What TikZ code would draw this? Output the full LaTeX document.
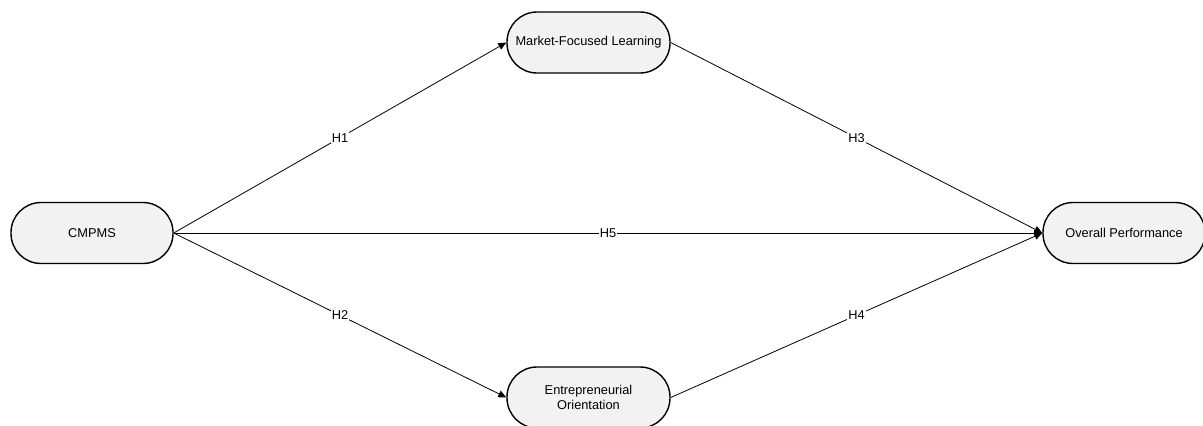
\documentclass[tikz,border=0pt]{standalone}
\usepackage{fontspec}
\setmainfont{Liberation Sans}
\usetikzlibrary{arrows.meta}
\definecolor{boxfill}{HTML}{F2F2F2}
\tikzset{
  construct/.style={draw=black, line width=1.4pt, fill=boxfill, rounded corners=30pt,
    minimum width=162pt, minimum height=61pt, inner sep=0pt, align=center,
    font=\fontsize{12.8}{14.5}\selectfont},
  path/.style={draw=black, line width=0.8pt, -{Triangle[length=8pt,width=7pt]}},
  hyp/.style={fill=white, inner sep=1pt, font=\fontsize{12.8}{14}\selectfont}
}
\begin{document}
\begin{tikzpicture}[x=1pt,y=-1pt]
\useasboundingbox (0,0) rectangle (1203,426);
\node[construct] (cm) at (92,233) {CMPMS};
\node[construct, minimum width=163pt] (mfl) at (588.5,42.5) {Market-Focused Learning};
\node[construct, minimum width=163pt] (eo) at (588.5,397.5) {Entrepreneurial\\Orientation};
\node[construct] (op) at (1124,233) {Overall Performance};
\draw[path] (cm.east) -- node[hyp] {H1} (mfl.west);
\draw[path] (cm.east) -- node[hyp] {H2} (eo.west);
\draw[path] (mfl.east) -- node[hyp] {H3} (op.west);
\draw[path] (eo.east) -- node[hyp] {H4} (op.west);
\draw[path] (cm.east) -- node[hyp] {H5} (op.west);
\end{tikzpicture}
\end{document}
